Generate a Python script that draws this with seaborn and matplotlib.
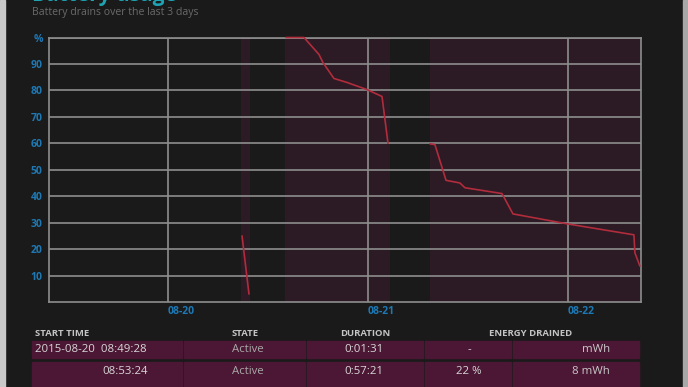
import matplotlib
matplotlib.use("Agg")
import matplotlib.pyplot as plt
from matplotlib.patches import Rectangle
import seaborn as sns
import pandas as pd

# Battery charge level per drain segment
seg1_time = ["2015-08-20 08:53", "2015-08-20 09:43"]
seg1_pct = [25, 3]
seg2_time = ["2015-08-20 14:10", "2015-08-20 16:19", "2015-08-20 18:07", "2015-08-20 18:36",
             "2015-08-20 19:55", "2015-08-20 21:29", "2015-08-20 23:53", "2015-08-21 01:41",
             "2015-08-21 02:24"]
seg2_pct = [100, 100, 93.6, 90.5, 84.5, 83, 80.3, 77.7, 60]
seg3_time = ["2015-08-21 07:26", "2015-08-21 08:02", "2015-08-21 09:22", "2015-08-21 11:02",
             "2015-08-21 11:38", "2015-08-21 16:05", "2015-08-21 17:24", "2015-08-22 00:00",
             "2015-08-22 07:55", "2015-08-22 08:02", "2015-08-22 08:38"]
seg3_pct = [59.8, 59.5, 46, 45, 43.2, 41, 33.3, 29.5, 25.4, 18.6, 13.6]

# Active periods (shaded)
active_start = ["2015-08-20 08:49", "2015-08-20 14:02", "2015-08-21 07:26"]
active_end = ["2015-08-20 09:51", "2015-08-21 02:38", "2015-08-22 09:00"]

x_start = "2015-08-19 09:43"
x_end = "2015-08-22 08:46"
day_ticks = ["2015-08-20", "2015-08-21", "2015-08-22"]
day_labels = ["08-20", "08-21", "08-22"]
y_ticks = [10, 20, 30, 40, 50, 60, 70, 80, 90, 100]
y_labels = ["10", "20", "30", "40", "50", "60", "70", "80", "90", "%"]

# Table under the chart
table_header = ["START TIME", "STATE", "DURATION", "ENERGY DRAINED"]
row_start = ["2015-08-20  08:49:28", "08:53:24"]
row_state = ["Active", "Active"]
row_duration = ["0:01:31", "0:57:21"]
row_pct = ["-", "22 %"]
row_energy = ["mWh", "8 mWh"]

BG = "#1a1a1a"
GRID = "#8e8e8e"
BLUE = "#1d78b4"
LINE = "#b12c3c"
SHADE = "#2c1b24"
ROW = "#4c1734"

frames = []
for i, (t, p) in enumerate([(seg1_time, seg1_pct), (seg2_time, seg2_pct), (seg3_time, seg3_pct)]):
    frames.append(pd.DataFrame({"time": pd.to_datetime(t), "pct": p, "segment": i}))
df = pd.concat(frames, ignore_index=True)

sns.set_theme(style="dark")
plt.rcParams["font.family"] = ["Open Sans", "DejaVu Sans"]

W, H = 688, 387
fig = plt.figure(figsize=(W / 100, H / 100), dpi=100, facecolor=BG)


def fx(px):
    return px / W


def fy(py):
    return 1 - py / H


ax = fig.add_axes([fx(49), fy(302), fx(641 - 49), (302 - 37.5) / H])
ax.set_facecolor(BG)

for s, e in zip(active_start, active_end):
    ax.axvspan(pd.Timestamp(s), pd.Timestamp(e), color=SHADE, lw=0, zorder=0)

sns.lineplot(data=df, x="time", y="pct", units="segment", estimator=None,
             color=LINE, lw=1.2, ax=ax)
for ln in ax.get_lines():
    ln.set_zorder(5)
    ln.set_clip_on(False)

ax.set_xlim(pd.Timestamp(x_start), pd.Timestamp(x_end))
ax.set_ylim(0, 100)
ax.set_yticks(y_ticks)
ax.set_yticklabels(y_labels, fontweight="bold")
ax.set_xticks(pd.to_datetime(day_ticks))
ax.set_xticklabels(day_labels, ha="left", fontweight="bold")
ax.tick_params(axis="y", length=0, pad=4.5, labelsize=7.5, labelcolor=BLUE)
ax.tick_params(axis="x", length=0, pad=3, labelsize=7.5, labelcolor=BLUE)
ax.grid(True, color=GRID, lw=1.2, zorder=1)
ax.set_axisbelow(False)
for sp in ax.spines.values():
    sp.set_visible(True)
    sp.set_color(GRID)
    sp.set_linewidth(1.2)
ax.set_xlabel("")
ax.set_ylabel("")
legend = ax.get_legend()
if legend:
    legend.remove()

# titles (the big title is cut off by the top edge, as in the screenshot)
fig.text(fx(32), fy(1.5), "Battery usage", color="#1ea3b3", fontsize=15,
         fontweight="bold", va="baseline")
fig.text(fx(32), fy(13), "Battery drains over the last 3 days", color="#6a6a6a",
         fontsize=7.6, va="center")

# image edges
fig.patches.append(Rectangle((0, 0), fx(5), 1, transform=fig.transFigure,
                             color="#c9c9c9", zorder=0))
fig.patches.append(Rectangle((fx(683), 0), fx(5), 1, transform=fig.transFigure,
                             color="#a8a8a8", zorder=0))

# table
header_x = [35, 232, 365, 531]
header_ha = ["left", "left", "center", "center"]
for txt, x, ha in zip(table_header, header_x, header_ha):
    fig.text(fx(x), fy(333), txt, color="#c4c4c4", fontsize=6.8, fontweight="bold",
             ha=ha, va="center")

cols = [31, 183, 306, 424, 512, 640]
rows = [(341, 358), (362, 390)]
row_y = [350, 372]
for r, (top, bot) in enumerate(rows):
    for c in range(len(cols) - 1):
        fig.patches.append(Rectangle((fx(cols[c] + 1), fy(bot)), fx(cols[c + 1] - cols[c] - 2),
                                     (bot - top) / H, transform=fig.transFigure,
                                     color=ROW, zorder=0))
    yc = fy(row_y[r])
    if r == 0:
        fig.text(fx(35), yc, row_start[r], color="#d8d8d8", fontsize=8.2, ha="left", va="center")
    else:
        fig.text(fx(148), yc, row_start[r], color="#d8d8d8", fontsize=8.2, ha="right", va="center")
    fig.text(fx(232), yc, row_state[r], color="#a8a8a8", fontsize=8.2, ha="left", va="center")
    fig.text(fx(364), yc, row_duration[r], color="#d8d8d8", fontsize=8.2, ha="center", va="center")
    fig.text(fx(469), yc, row_pct[r], color="#d8d8d8", fontsize=8.2, ha="center", va="center")
    fig.text(fx(610), yc, row_energy[r], color="#c8c8c8", fontsize=8.2, ha="right", va="center")

fig.savefig("out.png", dpi=100, facecolor=BG)
